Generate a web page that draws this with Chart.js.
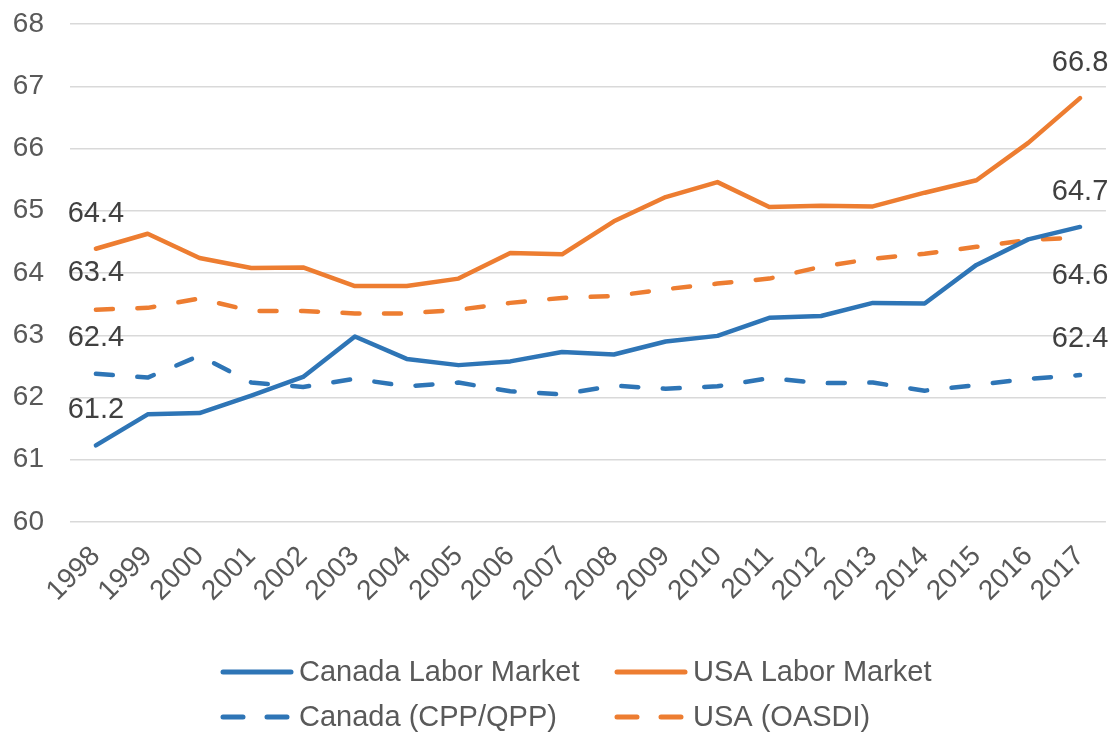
<!DOCTYPE html>
<html lang="en">
<head>
  <meta charset="UTF-8">
  <title>Labor force participation</title>
  <script src="https://cdn.jsdelivr.net/npm/chart.js"></script>
  <style>
    body { margin: 0; background: #ffffff; }
    #wrap { width: 1114px; height: 733px; }
  </style>
</head>
<body>
  <div id="wrap"><canvas id="chart" width="1114" height="733"></canvas></div>

  <script>
    const years = ["1998", "1999", "2000", "2001", "2002", "2003", "2004", "2005", "2006", "2007",
                   "2008", "2009", "2010", "2011", "2012", "2013", "2014", "2015", "2016", "2017"];

    const canadaLabor = [61.23, 61.73, 61.75, 62.03, 62.33, 62.98, 62.62, 62.52, 62.58, 62.73,
                         62.69, 62.90, 62.99, 63.28, 63.31, 63.52, 63.51, 64.13, 64.54, 64.74];
    const usaLabor = [64.39, 64.63, 64.24, 64.08, 64.09, 63.79, 63.79, 63.91, 64.32, 64.30,
                      64.83, 65.22, 65.46, 65.06, 65.08, 65.07, 65.29, 65.49, 66.09, 66.81];
    const canadaCpp = [62.38, 62.32, 62.67, 62.24, 62.17, 62.30, 62.18, 62.24, 62.10, 62.05,
                       62.19, 62.14, 62.18, 62.31, 62.23, 62.24, 62.11, 62.20, 62.30, 62.36];
    const usaOasdi = [63.41, 63.44, 63.59, 63.39, 63.39, 63.35, 63.35, 63.41, 63.52, 63.60,
                      63.63, 63.74, 63.83, 63.91, 64.10, 64.23, 64.31, 64.42, 64.53, 64.57];

    const yTicks = [60, 61, 62, 63, 64, 65, 66, 67, 68];

    const BLUE = "#2E75B6";
    const ORANGE = "#ED7D31";
    const DASH = [17, 24.5];
    const FONT = "'Liberation Sans', Arial, sans-serif";

    // which points get a value label, and how far above (-) / below (+) the point
    const valueLabels = [
      { ds: 0, i: 0, dy: -35 }, { ds: 0, i: 19, dy: -35 },
      { ds: 1, i: 0, dy: -35 }, { ds: 1, i: 19, dy: -35 },
      { ds: 2, i: 0, dy: -36 }, { ds: 2, i: 19, dy: -36 },
      { ds: 3, i: 0, dy: -37 }, { ds: 3, i: 19, dy: 38 }
    ];

    const valueLabelPlugin = {
      id: "valueLabels",
      afterDatasetsDraw(chart) {
        const ctx = chart.ctx;
        ctx.save();
        ctx.font = "29px " + FONT;
        ctx.fillStyle = "#404040";
        ctx.textAlign = "center";
        ctx.textBaseline = "middle";
        valueLabels.forEach(l => {
          const pt = chart.getDatasetMeta(l.ds).data[l.i];
          const v = chart.data.datasets[l.ds].data[l.i];
          ctx.fillText(v.toFixed(1), pt.x, pt.y + l.dy);
        });
        ctx.restore();
      }
    };

    // legend in two rows of two, like the original
    const legendSlots = [
      { ds: 0, x: 221, y: 672 }, { ds: 1, x: 615, y: 672 },
      { ds: 2, x: 221, y: 717 }, { ds: 3, x: 615, y: 717 }
    ];

    const legendPlugin = {
      id: "gridLegend",
      afterDraw(chart) {
        const ctx = chart.ctx;
        ctx.save();
        ctx.font = "29px " + FONT;
        ctx.textBaseline = "middle";
        ctx.textAlign = "left";
        legendSlots.forEach(s => {
          const ds = chart.data.datasets[s.ds];
          ctx.strokeStyle = ds.borderColor;
          ctx.lineWidth = 5;
          ctx.lineCap = "round";
          ctx.beginPath();
          if (ds.borderDash && ds.borderDash.length) {
            ctx.moveTo(s.x + 2, s.y); ctx.lineTo(s.x + 22, s.y);
            ctx.moveTo(s.x + 46, s.y); ctx.lineTo(s.x + 66, s.y);
          } else {
            ctx.moveTo(s.x + 2, s.y); ctx.lineTo(s.x + 70, s.y);
          }
          ctx.stroke();
          ctx.fillStyle = "#595959";
          ctx.fillText(ds.label, s.x + 78, s.y + 1);
        });
        ctx.restore();
      }
    };

    const line = (label, data, color, dashed) => ({
      label: label,
      data: data,
      borderColor: color,
      backgroundColor: color,
      borderWidth: 4.5,
      borderDash: dashed ? DASH : [],
      borderCapStyle: "round",
      borderJoinStyle: "round",
      pointRadius: 0,
      tension: 0,
      fill: false
    });

    new Chart(document.getElementById("chart"), {
      type: "line",
      data: {
        labels: years,
        datasets: [
          line("Canada Labor Market", canadaLabor, BLUE, false),
          line("USA Labor Market", usaLabor, ORANGE, false),
          line("Canada (CPP/QPP)", canadaCpp, BLUE, true),
          line("USA (OASDI)", usaOasdi, ORANGE, true)
        ]
      },
      options: {
        responsive: false,
        animation: false,
        layout: { padding: { top: 24, right: 8, bottom: 121, left: 0 } },
        plugins: {
          legend: { display: false },
          tooltip: { enabled: false }
        },
        scales: {
          x: {
            offset: true,
            grid: { display: false },
            border: { display: false },
            afterFit: s => { s.height = 90; },
            ticks: {
              color: "#595959",
              font: { family: FONT, size: 28 },
              minRotation: 45,
              maxRotation: 45,
              padding: 10,
              autoSkip: false
            }
          },
          y: {
            min: 60,
            max: 68,
            afterFit: s => { s.width = 70; s.paddingTop = 17; s.paddingBottom = 17; },
            afterBuildTicks: s => { s.ticks = yTicks.map(v => ({ value: v })); },
            grid: { color: "#d9d9d9", lineWidth: 1.5, drawTicks: false },
            border: { display: false },
            ticks: {
              color: "#595959",
              font: { family: FONT, size: 28 },
              padding: 26
            }
          }
        }
      },
      plugins: [valueLabelPlugin, legendPlugin]
    });
  </script>
</body>
</html>
